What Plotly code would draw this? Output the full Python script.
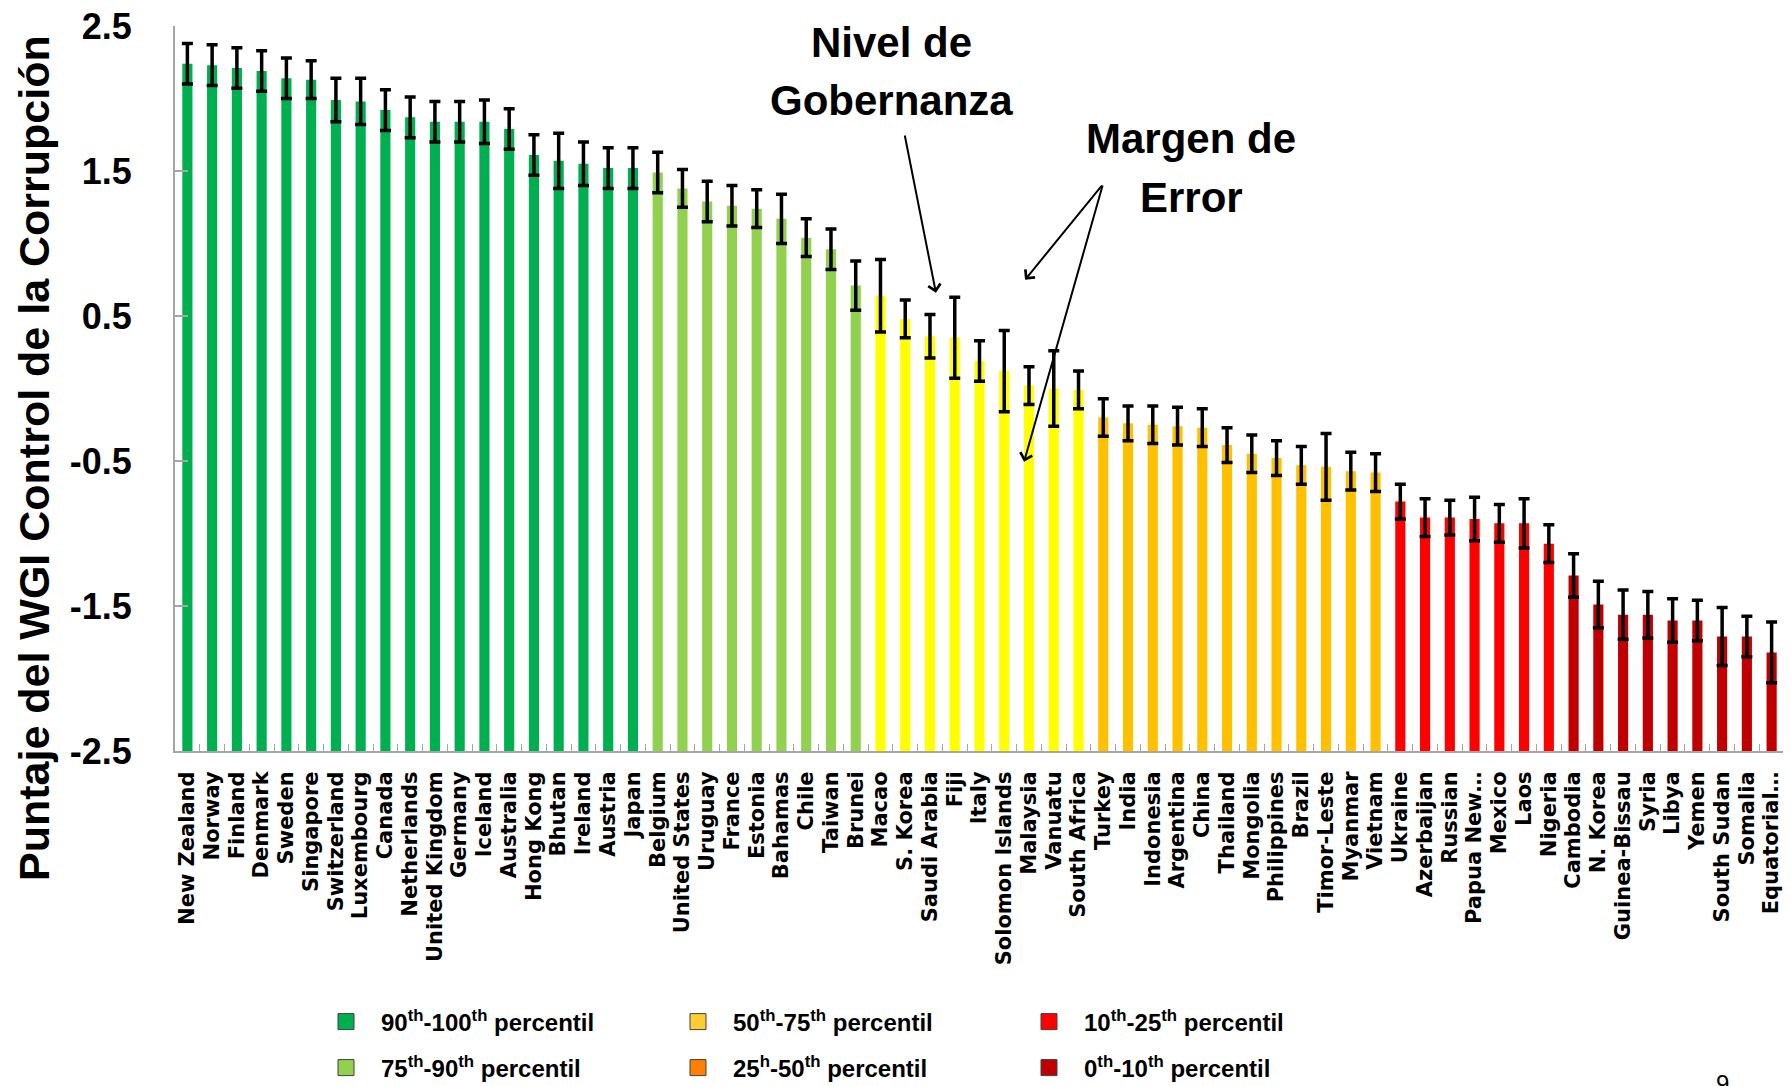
import plotly.graph_objects as go

countries = ["New Zealand", "Norway", "Finland", "Denmark", "Sweden", "Singapore", "Switzerland",
             "Luxembourg", "Canada", "Netherlands", "United Kingdom", "Germany", "Iceland", "Australia",
             "Hong Kong", "Bhutan", "Ireland", "Austria", "Japan", "Belgium", "United States", "Uruguay",
             "France", "Estonia", "Bahamas", "Chile", "Taiwan", "Brunei", "Macao", "S. Korea",
             "Saudi Arabia", "Fiji", "Italy", "Solomon Islands", "Malaysia", "Vanuatu", "South Africa",
             "Turkey", "India", "Indonesia", "Argentina", "China", "Thailand", "Mongolia", "Philippines",
             "Brazil", "Timor-Leste", "Myanmar", "Vietnam", "Ukraine", "Azerbaijan", "Russian",
             "Papua New…", "Mexico", "Laos", "Nigeria", "Cambodia", "N. Korea", "Guinea-Bissau", "Syria",
             "Libya", "Yemen", "South Sudan", "Somalia", "Equatorial…"]

scores = [2.24, 2.23, 2.21, 2.19, 2.14, 2.13, 1.99, 1.98, 1.92, 1.87,
          1.84, 1.84, 1.84, 1.79, 1.61, 1.57, 1.55, 1.52, 1.52, 1.49,
          1.38, 1.29, 1.26, 1.24, 1.17, 1.04, 0.96, 0.71, 0.64, 0.48,
          0.36, 0.35, 0.19, 0.12, 0.02, 0.00, -0.01, -0.20, -0.24, -0.25,
          -0.26, -0.27, -0.39, -0.45, -0.48, -0.53, -0.54, -0.57, -0.58, -0.78,
          -0.89, -0.89, -0.90, -0.93, -0.93, -1.07, -1.29, -1.49, -1.56, -1.56,
          -1.60, -1.60, -1.71, -1.71, -1.82]

error_margin = [0.14, 0.14, 0.14, 0.14, 0.14, 0.13, 0.15, 0.16, 0.14, 0.14,
                0.14, 0.14, 0.15, 0.14, 0.14, 0.19, 0.15, 0.14, 0.14, 0.14,
                0.13, 0.14, 0.14, 0.13, 0.17, 0.13, 0.14, 0.17, 0.25, 0.13,
                0.15, 0.28, 0.14, 0.28, 0.13, 0.26, 0.13, 0.13, 0.12, 0.13,
                0.13, 0.13, 0.12, 0.13, 0.12, 0.13, 0.23, 0.13, 0.13, 0.12,
                0.13, 0.12, 0.15, 0.13, 0.17, 0.13, 0.15, 0.16, 0.17, 0.16,
                0.15, 0.14, 0.20, 0.14, 0.21]

# percentile band of each country (0 = 90-100 ... 5 = 0-10)
band = [0, 0, 0, 0, 0, 0, 0, 0, 0, 0, 0, 0, 0, 0, 0, 0, 0, 0, 0,
        1, 1, 1, 1, 1, 1, 1, 1, 1,
        2, 2, 2, 2, 2, 2, 2, 2, 2,
        3, 3, 3, 3, 3, 3, 3, 3, 3, 3, 3, 3,
        4, 4, 4, 4, 4, 4, 4,
        5, 5, 5, 5, 5, 5, 5, 5, 5]

band_labels = ["90<sup>th</sup>-100<sup>th</sup> percentil",
               "75<sup>th</sup>-90<sup>th</sup> percentil",
               "50<sup>th</sup>-75<sup>th</sup> percentil",
               "25<sup>h</sup>-50<sup>th</sup> percentil",
               "10<sup>th</sup>-25<sup>th</sup> percentil",
               "0<sup>th</sup>-10<sup>th</sup> percentil"]
bar_colors = ["#00B050", "#92D050", "#FFFF00", "#FFC000", "#FF0000", "#C00000"]
legend_colors = ["#00B050", "#92D050", "#FFCC33", "#FF8000", "#FF0000", "#C00000"]

y_ticks = [2.5, 1.5, 0.5, -0.5, -1.5, -2.5]
y_title = "Puntaje del WGI Control de la Corrupción"

AXIS_MIN = -2.5
PAGE_OFFSET = 8          # default body margin of the html page
W, H = 1791 - PAGE_OFFSET, 1086 - PAGE_OFFSET
ML, MR, MT, MB = 167, 7, 18, 335
PW, PH = W - ML - MR, H - MT - MB


def px_to_paper(px, py):
    """page pixel position -> paper coordinates"""
    fx, fy = px - PAGE_OFFSET, py - PAGE_OFFSET
    return (fx - ML) / PW, (H - MB - fy) / PH


fig = go.Figure()

for b in range(len(band_labels)):
    xs = [c for c, g in zip(countries, band) if g == b]
    ys = [s - AXIS_MIN for s, g in zip(scores, band) if g == b]
    fig.add_trace(go.Bar(x=xs, y=ys, base=AXIS_MIN, width=0.41,
                         marker=dict(color=bar_colors[b], line=dict(width=0)),
                         showlegend=False, name=band_labels[b]))

fig.add_trace(go.Scatter(x=countries, y=scores, mode="markers",
                         marker=dict(size=1, color="rgba(0,0,0,0)"),
                         error_y=dict(type="data", array=error_margin, visible=True,
                                      color="black", thickness=3.5, width=5.5),
                         showlegend=False, hoverinfo="skip"))

# legend entries (one legend per entry, arranged 3 columns x 2 rows)
legend_cols_px = [311, 663, 1014]
legend_rows_px = [1022, 1068]
layout_legends = {}
for b in range(len(band_labels)):
    col, row = b // 2, b % 2
    lx, ly = px_to_paper(legend_cols_px[col], legend_rows_px[row])
    lname = "legend" if b == 0 else "legend%d" % (b + 1)
    fig.add_trace(go.Scatter(x=[None], y=[None], mode="markers", name=band_labels[b],
                             marker=dict(symbol="square", size=16, color=legend_colors[b],
                                         line=dict(color="#404040", width=1)),
                             legend=lname, showlegend=True))
    layout_legends[lname] = dict(x=lx, y=ly, xanchor="left", yanchor="middle",
                                 bgcolor="rgba(0,0,0,0)", itemsizing="trace", itemwidth=60,
                                 font=dict(family="Liberation Sans", size=24, color="black",
                                           weight="bold"))

ann_font = dict(family="Liberation Sans", size=42, color="black", weight="bold")
tx, ty = px_to_paper(34, 458)
nx, ny = px_to_paper(1722, 1068)
annotations = [
    dict(x=tx, y=ty, xref="paper", yref="paper", text=y_title, textangle=-90, showarrow=False,
         xanchor="center", yanchor="middle",
         font=dict(family="Liberation Sans", size=43, color="black", weight="bold")),
    dict(x=28.45, y=2.383, xref="x", yref="y", text="Nivel de", showarrow=False,
         font=ann_font, xanchor="center", yanchor="middle"),
    dict(x=28.45, y=1.983, xref="x", yref="y", text="Gobernanza", showarrow=False,
         font=ann_font, xanchor="center", yanchor="middle"),
    dict(x=40.55, y=1.721, xref="x", yref="y", text="Margen de", showarrow=False,
         font=ann_font, xanchor="center", yanchor="middle"),
    dict(x=40.55, y=1.314, xref="x", yref="y", text="Error", showarrow=False,
         font=ann_font, xanchor="center", yanchor="middle"),
    dict(x=30.24, y=0.66, ax=28.97, ay=1.755, xref="x", yref="y", axref="x", ayref="y",
         text="", showarrow=True, arrowhead=4, arrowsize=1.2, arrowwidth=2, arrowcolor="black"),
    dict(x=33.84, y=0.75, ax=36.99, ay=1.41, xref="x", yref="y", axref="x", ayref="y",
         text="", showarrow=True, arrowhead=4, arrowsize=1.2, arrowwidth=2, arrowcolor="black"),
    dict(x=33.8, y=-0.505, ax=36.99, ay=1.41, xref="x", yref="y", axref="x", ayref="y",
         text="", showarrow=True, arrowhead=4, arrowsize=1.2, arrowwidth=2, arrowcolor="black"),
    dict(x=nx, y=ny, xref="paper", yref="paper",
         text="9", showarrow=False, xanchor="center", yanchor="top",
         font=dict(family="Liberation Sans", size=24, color="black")),
]

fig.update_layout(
    width=W, height=H,
    margin=dict(l=ML, r=MR, t=MT, b=MB, autoexpand=False),
    paper_bgcolor="white", plot_bgcolor="white",
    barmode="overlay",
    annotations=annotations,
    **layout_legends,
    xaxis=dict(type="category", categoryorder="array", categoryarray=countries,
               tickmode="array", tickvals=countries, ticktext=countries,
               range=[-0.5, len(countries) - 0.5], automargin=False,
               showline=True, linecolor="#A6A6A6", linewidth=2,
               ticks="inside", tickson="boundaries", ticklen=7, tickcolor="#A6A6A6", tickwidth=1,
               tickangle=-90, showgrid=False, ticklabelstandoff=10,
               tickfont=dict(family="DejaVu Sans", size=21, color="black", weight="bold")),
    yaxis=dict(range=[-2.5, 2.5], tickvals=y_ticks, ticktext=[str(v) for v in y_ticks],
               automargin=False, ticklabeloverflow="allow",
               showline=True, linecolor="#A6A6A6", linewidth=2,
               ticks="inside", ticklen=13, tickcolor="#A6A6A6", tickwidth=2,
               ticklabelstandoff=34, showgrid=False, zeroline=False,
               tickfont=dict(family="Liberation Sans", size=36, color="black", weight="bold")),
)

fig.write_html("out.html")
